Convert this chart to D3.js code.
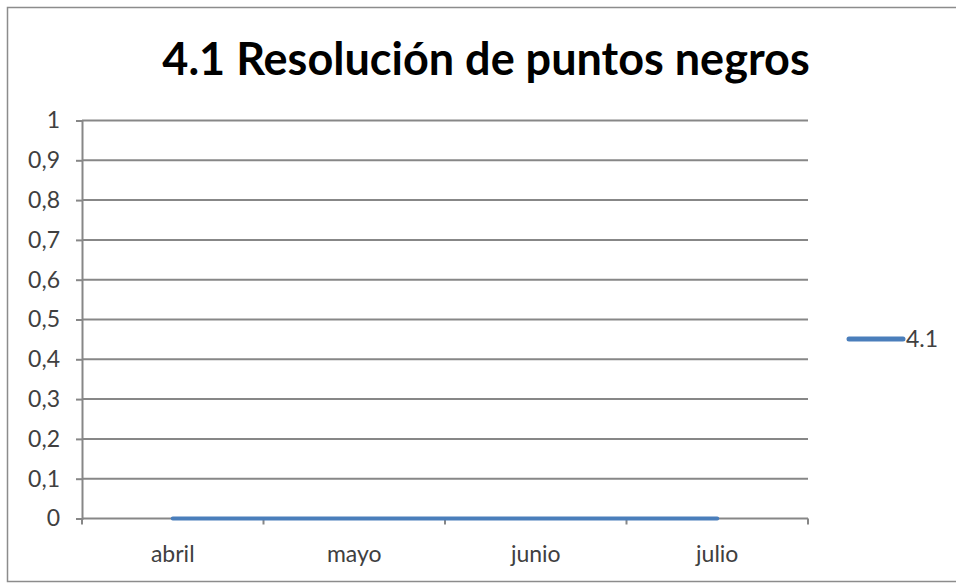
<!DOCTYPE html>
<html><head><meta charset="utf-8">
<script src="https://cdn.jsdelivr.net/npm/d3@7"></script>
<style>body{margin:0;background:#fff}svg{display:block}text{font-family:Lato,"Open Sans",sans-serif}</style>
</head><body>
<svg id="c" width="956" height="584"></svg>
<script>
const title = "4.1 Resolución de puntos negros";
const categories = ["abril", "mayo", "junio", "julio"];
const seriesName = "4.1";
const values = [0, 0, 0, 0];
const yTicks = [0, 0.1, 0.2, 0.3, 0.4, 0.5, 0.6, 0.7, 0.8, 0.9, 1];

const svg = d3.select("#c");
svg.append("rect").attr("x", 7.5).attr("y", 7.5).attr("width", 960).attr("height", 574)
  .attr("fill", "#fff").attr("stroke", "#8c8c8c").attr("stroke-width", 1.5);

const L = 82, R = 808, T = 120.5, B = 518.5;
const x = d3.scaleBand().domain(categories).range([L, R]);
const y = d3.scaleLinear().domain([0, 1]).range([B, T]);
const fmt = d => String(d).replace(".", ",");
const FS = 23;

// gridlines
svg.append("g").selectAll("line").data(yTicks.filter(d => d > 0)).join("line")
  .attr("x1", L).attr("x2", R).attr("y1", d => y(d)).attr("y2", d => y(d))
  .attr("stroke", "#878787").attr("stroke-width", 2);

// y axis
const ya = svg.append("g").attr("transform", `translate(${L},0)`)
  .call(d3.axisLeft(y).tickValues(yTicks).tickFormat(fmt).tickSize(6).tickPadding(16));
ya.select(".domain").attr("stroke", "#878787").attr("stroke-width", 2);
ya.selectAll(".tick line").attr("stroke", "#878787").attr("stroke-width", 2);
ya.selectAll(".tick text").attr("fill", "#404040").attr("font-size", FS).attr("font-family", "Lato,sans-serif");

// x axis
const xa = svg.append("g").attr("transform", `translate(0,${B})`)
  .call(d3.axisBottom(x).tickSize(0).tickPadding(27));
xa.select(".domain").attr("stroke", "#878787").attr("stroke-width", 2)
  .attr("d", `M${L},0H${R}`);
xa.selectAll(".tick text").attr("fill", "#404040").attr("font-size", FS).attr("font-family", "Lato,sans-serif");
const bounds = categories.map(c => x(c)).concat([R]);
svg.append("g").selectAll("line").data(bounds).join("line")
  .attr("x1", d => d).attr("x2", d => d).attr("y1", B).attr("y2", B + 6)
  .attr("stroke", "#878787").attr("stroke-width", 2);

// line
const line = d3.line().x((d, i) => x(categories[i]) + x.bandwidth() / 2).y(d => y(d));
svg.append("path").datum(values).attr("d", line).attr("fill", "none")
  .attr("stroke", "#4a7ebb").attr("stroke-width", 4).attr("stroke-linecap", "round");

// title
svg.append("text").attr("x", 486).attr("y", 75).attr("text-anchor", "middle")
  .attr("font-size", 45).attr("font-weight", "bold").attr("fill", "#000").text(title);

// legend
svg.append("line").attr("x1", 849).attr("x2", 903).attr("y1", 339).attr("y2", 339)
  .attr("stroke", "#4a7ebb").attr("stroke-width", 5).attr("stroke-linecap", "round");
svg.append("text").attr("x", 906).attr("y", 347).attr("font-size", FS).attr("fill", "#404040").text(seriesName);
</script>
</body></html>
